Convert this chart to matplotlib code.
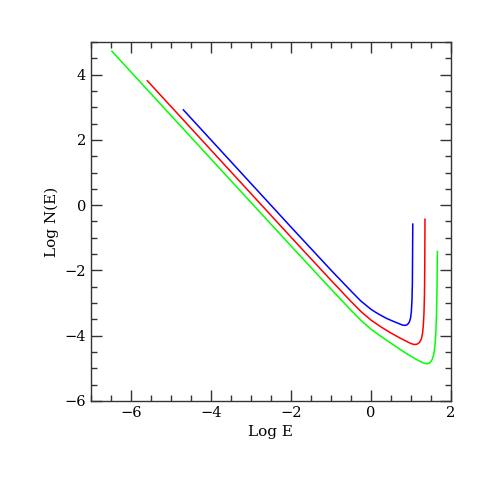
import matplotlib
matplotlib.use("Agg")
import matplotlib.pyplot as plt
from matplotlib.ticker import MultipleLocator

# curves (log E, log N(E))
blue_x = [-4.69, -2.0, -1.0, -0.5, -0.25, 0.0, 0.1, 0.225, 0.39, 0.56, 0.68, 0.78, 0.85, 0.91, 0.96, 0.99,
          1.01, 1.025, 1.035, 1.04, 1.045]
blue_y = [2.92, -0.67, -1.99, -2.63, -2.94, -3.19, -3.27, -3.36, -3.47, -3.56, -3.62, -3.67, -3.685, -3.66,
          -3.58, -3.45, -3.25, -2.9, -2.4, -1.5, -0.58]

red_x = [-5.59, -2.0, -1.0, -0.5, -0.25, 0.0, 0.225, 0.475, 0.725, 0.9, 1.0, 1.08, 1.15, 1.21, 1.26, 1.29,
         1.31, 1.325, 1.338, 1.345, 1.35]
red_y = [3.81, -0.98, -2.30, -2.95, -3.26, -3.52, -3.71, -3.90, -4.07, -4.18, -4.24, -4.27, -4.26, -4.21,
         -4.10, -3.92, -3.65, -3.3, -2.7, -1.8, -0.43]

green_x = [-6.48, -2.0, -1.0, -0.5, -0.25, 0.0, 0.225, 0.56, 0.89, 1.14, 1.3, 1.4, 1.47, 1.53, 1.57, 1.6,
           1.62, 1.64, 1.65, 1.66]
green_y = [4.72, -1.25, -2.57, -3.22, -3.53, -3.80, -4.00, -4.28, -4.55, -4.73, -4.83, -4.86, -4.83, -4.73,
           -4.57, -4.30, -3.95, -3.3, -2.6, -1.42]

plt.rcParams['font.family'] = ['DejaVu Serif']

fig = plt.figure(figsize=(4.91, 4.91), dpi=100)
ax = fig.add_axes([0.1853, 0.1833, 0.7332, 0.7312])

ax.plot(green_x, green_y, color='#00ff00', lw=1.1)
ax.plot(red_x, red_y, color='#ff0000', lw=1.1)
ax.plot(blue_x, blue_y, color='#0000ff', lw=1.1)

ax.set_xlim(-7, 2)
ax.set_ylim(-6, 5)
ax.xaxis.set_major_locator(MultipleLocator(2))
ax.xaxis.set_minor_locator(MultipleLocator(0.5))
ax.yaxis.set_major_locator(MultipleLocator(2))
ax.yaxis.set_minor_locator(MultipleLocator(0.5))
ax.tick_params(which='both', direction='in', top=True, right=True, color='#333333', labelsize=10.5)
ax.tick_params(which='major', length=8, width=1)
ax.tick_params(which='minor', length=4, width=1)
for s in ax.spines.values():
    s.set_color('#333333')
    s.set_linewidth(1)

ax.set_xlabel('Log E', fontsize=11)
ax.set_ylabel('Log N(E)', fontsize=11)

fig.savefig('out.png', dpi=100)
